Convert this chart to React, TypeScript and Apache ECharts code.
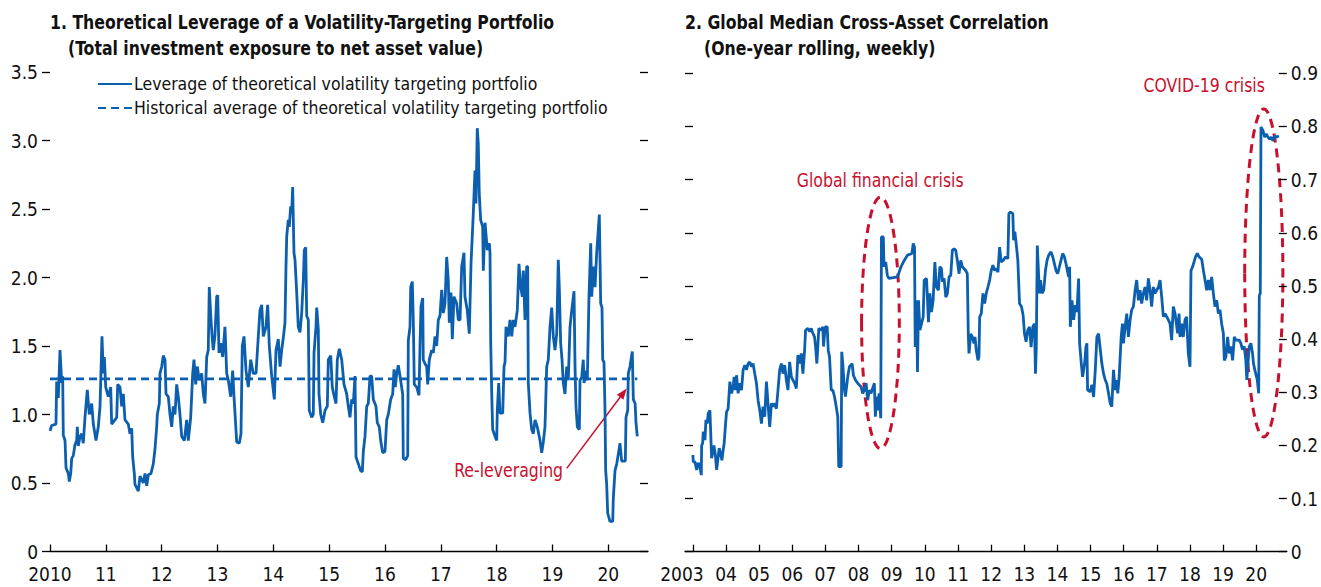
import { useEffect, useRef } from "react";
import * as echarts from "echarts";

const FONT = "'Liberation Sans Narrow','Arial Narrow','DejaVu Sans Condensed','Roboto Condensed',Roboto,sans-serif";
const BLUE = "#0b5fae";
const RED = "#c8102e";
const INK = "#111111";

// ---------- Panel 1 ----------
const leverageTitle = ["1. Theoretical Leverage of a Volatility-Targeting Portfolio", "(Total investment exposure to net asset value)"];
const leverageSeriesName = "Leverage of theoretical volatility targeting portfolio";
const averageSeriesName = "Historical average of theoretical volatility targeting portfolio";
const leverageYearTicks = [2010, 2011, 2012, 2013, 2014, 2015, 2016, 2017, 2018, 2019, 2020];
const leverageAverage = 1.26;
const leverageAverageSpan = [2010, 2020.52];
const leverage: [number, number][] = [
  [2010.0, 0.88], [2010.03, 0.92], [2010.107, 0.93], [2010.12, 1.24], [2010.149, 1.12], [2010.179, 1.47], [2010.21, 1.23], [2010.227, 1.28], [2010.238, 0.85], [2010.269, 0.81], [2010.287, 0.61], [2010.328, 0.57], [2010.346, 0.51], [2010.371, 0.57], [2010.389, 0.68], [2010.417, 0.7], [2010.448, 0.78], [2010.478, 0.81], [2010.489, 0.91], [2010.507, 0.77], [2010.537, 0.84], [2010.568, 0.86], [2010.596, 0.79], [2010.627, 0.98], [2010.668, 1.18], [2010.704, 1.0], [2010.747, 1.08], [2010.776, 0.93], [2010.824, 0.81], [2010.865, 0.91], [2010.896, 1.06], [2010.931, 1.57], [2010.955, 1.3], [2010.973, 1.42], [2010.998, 1.2],
  [2011.044, 1.13], [2011.087, 1.2], [2011.105, 0.93], [2011.164, 0.96], [2011.195, 0.98], [2011.213, 1.22], [2011.254, 1.2], [2011.284, 1.06], [2011.313, 1.15], [2011.343, 0.96], [2011.402, 0.93], [2011.433, 0.86], [2011.463, 0.9], [2011.481, 0.69], [2011.51, 0.57], [2011.522, 0.49], [2011.582, 0.44], [2011.612, 0.55], [2011.671, 0.5], [2011.702, 0.57], [2011.732, 0.48], [2011.761, 0.56], [2011.809, 0.57], [2011.85, 0.64], [2011.881, 0.75], [2011.911, 0.91], [2011.922, 1.0], [2011.958, 1.08], [2011.97, 1.3],
  [2012.001, 1.35], [2012.029, 1.43], [2012.06, 1.4], [2012.078, 1.15], [2012.119, 1.13], [2012.149, 1.0], [2012.18, 0.91], [2012.208, 1.06], [2012.239, 1.0], [2012.269, 1.22], [2012.298, 1.13], [2012.328, 1.0], [2012.359, 0.84], [2012.406, 0.81], [2012.449, 0.96], [2012.477, 0.81], [2012.52, 0.98], [2012.556, 1.3], [2012.579, 1.4], [2012.61, 1.22], [2012.638, 1.35], [2012.674, 1.25], [2012.717, 1.3], [2012.746, 1.15], [2012.776, 1.08], [2012.807, 1.42], [2012.835, 1.47], [2012.853, 1.93], [2012.884, 1.69], [2012.907, 1.55], [2012.925, 1.47], [2012.955, 1.58], [2012.986, 1.86],
  [2013.004, 1.87], [2013.027, 1.45], [2013.058, 1.52], [2013.093, 1.42], [2013.134, 1.64], [2013.165, 1.3], [2013.194, 1.25], [2013.237, 1.13], [2013.272, 1.32], [2013.296, 1.13], [2013.344, 0.8], [2013.391, 0.79], [2013.421, 0.86], [2013.444, 1.5], [2013.475, 1.57], [2013.511, 1.32], [2013.552, 1.2], [2013.595, 1.4], [2013.641, 1.3], [2013.69, 1.3], [2013.731, 1.57], [2013.761, 1.76], [2013.792, 1.8], [2013.821, 1.57], [2013.869, 1.64], [2013.899, 1.8], [2013.928, 1.5], [2013.971, 1.28],
  [2014.018, 1.11], [2014.048, 1.47], [2014.089, 1.55], [2014.12, 1.35], [2014.15, 1.47], [2014.179, 1.56], [2014.209, 1.67], [2014.227, 2.08], [2014.24, 2.3], [2014.268, 2.42], [2014.286, 2.37], [2014.311, 2.52], [2014.329, 2.47], [2014.347, 2.66], [2014.358, 2.42], [2014.37, 2.18], [2014.388, 2.13], [2014.419, 1.89], [2014.447, 1.64], [2014.478, 1.6], [2014.508, 1.74], [2014.537, 1.98], [2014.555, 2.2], [2014.58, 2.22], [2014.598, 1.72], [2014.627, 1.69], [2014.644, 1.03], [2014.687, 0.98], [2014.716, 1.0], [2014.729, 1.45], [2014.764, 1.64], [2014.777, 1.78], [2014.806, 1.62], [2014.818, 1.15], [2014.849, 1.0], [2014.885, 0.94], [2014.926, 1.03], [2014.967, 1.06], [2014.985, 1.4],
  [2015.028, 1.43], [2015.056, 1.2], [2015.092, 1.13], [2015.123, 1.08], [2015.146, 1.4], [2015.182, 1.48], [2015.225, 1.4], [2015.266, 1.22], [2015.314, 1.15], [2015.343, 1.06], [2015.373, 0.98], [2015.404, 1.11], [2015.433, 1.08], [2015.463, 1.28], [2015.481, 0.69], [2015.522, 0.64], [2015.565, 0.59], [2015.594, 0.58], [2015.612, 0.73], [2015.642, 0.84], [2015.673, 1.06], [2015.701, 1.08], [2015.732, 1.28], [2015.762, 1.28], [2015.791, 1.11], [2015.839, 1.06], [2015.862, 0.94], [2015.898, 0.91], [2015.923, 0.81], [2015.959, 0.72],
  [2016.0, 0.73], [2016.031, 0.96], [2016.059, 1.0], [2016.102, 1.11], [2016.138, 1.15], [2016.162, 1.33], [2016.185, 1.2], [2016.21, 1.3], [2016.239, 1.36], [2016.269, 1.28], [2016.317, 1.15], [2016.328, 0.68], [2016.371, 0.67], [2016.407, 0.7], [2016.418, 1.54], [2016.448, 1.64], [2016.461, 1.93], [2016.489, 1.97], [2016.507, 1.69], [2016.525, 1.22], [2016.568, 1.2], [2016.609, 1.14], [2016.627, 1.5], [2016.645, 1.79], [2016.676, 1.85], [2016.686, 1.4], [2016.717, 1.37], [2016.747, 1.35], [2016.765, 1.22], [2016.794, 1.4], [2016.837, 1.47], [2016.866, 1.45], [2016.896, 1.57], [2016.926, 1.5], [2016.955, 1.69], [2016.985, 1.72],
  [2017.016, 1.91], [2017.045, 1.74], [2017.075, 1.81], [2017.105, 2.15], [2017.134, 1.98], [2017.152, 1.67], [2017.182, 1.89], [2017.206, 1.55], [2017.236, 1.86], [2017.285, 1.81], [2017.313, 1.69], [2017.344, 1.69], [2017.374, 2.08], [2017.415, 2.18], [2017.433, 1.86], [2017.474, 1.76], [2017.51, 1.59], [2017.541, 2.1], [2017.582, 2.47], [2017.612, 2.78], [2017.63, 2.54], [2017.653, 3.09], [2017.671, 2.98], [2017.689, 2.61], [2017.714, 2.42], [2017.75, 2.37], [2017.761, 2.05], [2017.792, 2.4], [2017.833, 2.2], [2017.869, 2.25], [2017.881, 2.18], [2017.894, 1.52], [2017.912, 1.15], [2017.929, 0.89], [2017.971, 0.84],
  [2018.001, 0.81], [2018.012, 1.03], [2018.037, 1.23], [2018.06, 1.01], [2018.109, 1.01], [2018.132, 1.35], [2018.15, 1.38], [2018.168, 1.64], [2018.209, 1.57], [2018.239, 1.69], [2018.27, 1.57], [2018.298, 1.69], [2018.329, 1.64], [2018.37, 1.76], [2018.4, 2.1], [2018.431, 1.93], [2018.46, 1.86], [2018.478, 2.05], [2018.508, 1.69], [2018.538, 2.08], [2018.556, 2.08], [2018.567, 1.23], [2018.598, 1.01], [2018.628, 0.89], [2018.657, 0.86], [2018.688, 0.96], [2018.728, 0.91], [2018.777, 0.81], [2018.807, 0.72], [2018.836, 0.8], [2018.866, 0.91], [2018.897, 1.35], [2018.925, 1.4], [2018.956, 1.64], [2018.986, 1.78],
  [2019.015, 1.57], [2019.045, 1.47], [2019.076, 1.59], [2019.104, 2.13], [2019.122, 1.93], [2019.147, 1.52], [2019.171, 1.4], [2019.194, 1.23], [2019.224, 1.15], [2019.255, 1.35], [2019.283, 1.25], [2019.314, 1.64], [2019.345, 1.76], [2019.386, 1.9], [2019.404, 1.35], [2019.421, 1.06], [2019.445, 0.91], [2019.481, 0.89], [2019.493, 1.25], [2019.523, 1.27], [2019.552, 1.4], [2019.565, 1.23], [2019.601, 1.32], [2019.624, 1.25], [2019.654, 1.86], [2019.685, 2.25], [2019.703, 1.86], [2019.731, 2.08], [2019.762, 1.93], [2019.792, 2.18], [2019.821, 2.35], [2019.839, 2.46], [2019.864, 1.81], [2019.887, 1.78], [2019.9, 1.4], [2019.923, 1.38], [2019.941, 1.03], [2019.953, 0.59], [2019.971, 0.49], [2019.989, 0.28],
  [2020.03, 0.22], [2020.079, 0.22], [2020.09, 0.39], [2020.12, 0.59], [2020.151, 0.64], [2020.179, 0.71], [2020.209, 0.79], [2020.24, 0.66], [2020.269, 0.66], [2020.305, 0.66], [2020.317, 0.98], [2020.348, 1.03], [2020.358, 1.3], [2020.389, 1.35], [2020.407, 1.4], [2020.43, 1.46], [2020.448, 1.11], [2020.48, 1.08], [2020.496, 0.94], [2020.519, 0.84],
];

// ---------- Panel 2 ----------
const correlationTitle = ["2. Global Median Cross-Asset Correlation", "(One-year rolling, weekly)"];
const correlationSeriesName = "Global median cross-asset correlation";
const correlationYearTicks = [2003, 2004, 2005, 2006, 2007, 2008, 2009, 2010, 2011, 2012, 2013, 2014, 2015, 2016, 2017, 2018, 2019, 2020];
const correlation: [number, number][] = [
  [2003.0, 0.182], [2003.012, 0.169], [2003.063, 0.169], [2003.114, 0.154], [2003.162, 0.167], [2003.213, 0.16], [2003.253, 0.144], [2003.265, 0.2], [2003.295, 0.204], [2003.313, 0.226], [2003.364, 0.21], [2003.394, 0.248], [2003.433, 0.241], [2003.463, 0.26], [2003.514, 0.266], [2003.535, 0.229], [2003.565, 0.176], [2003.595, 0.185], [2003.634, 0.2], [2003.674, 0.185], [2003.716, 0.154], [2003.764, 0.179], [2003.794, 0.195], [2003.836, 0.185], [2003.875, 0.172], [2003.914, 0.191], [2003.944, 0.204], [2003.986, 0.241],
  [2004.016, 0.263], [2004.064, 0.269], [2004.116, 0.32], [2004.167, 0.298], [2004.215, 0.31], [2004.245, 0.329], [2004.287, 0.304], [2004.317, 0.332], [2004.365, 0.298], [2004.416, 0.317], [2004.467, 0.304], [2004.516, 0.342], [2004.567, 0.351], [2004.618, 0.342], [2004.666, 0.354], [2004.717, 0.357], [2004.768, 0.348], [2004.816, 0.354], [2004.867, 0.335], [2004.918, 0.317], [2004.967, 0.285],
  [2005.018, 0.266], [2005.069, 0.241], [2005.117, 0.273], [2005.168, 0.254], [2005.219, 0.32], [2005.267, 0.279], [2005.318, 0.235], [2005.37, 0.279], [2005.418, 0.273], [2005.469, 0.279], [2005.52, 0.269], [2005.568, 0.304], [2005.619, 0.342], [2005.67, 0.354], [2005.718, 0.335], [2005.769, 0.351], [2005.821, 0.323], [2005.869, 0.304], [2005.92, 0.357], [2005.971, 0.329],
  [2006.019, 0.323], [2006.07, 0.317], [2006.121, 0.307], [2006.169, 0.37], [2006.22, 0.354], [2006.272, 0.373], [2006.32, 0.335], [2006.371, 0.379], [2006.401, 0.417], [2006.47, 0.42], [2006.521, 0.414], [2006.572, 0.42], [2006.62, 0.411], [2006.671, 0.404], [2006.702, 0.386], [2006.741, 0.354], [2006.801, 0.42], [2006.873, 0.417], [2006.921, 0.423], [2006.942, 0.386], [2006.993, 0.423],
  [2007.053, 0.423], [2007.084, 0.379], [2007.123, 0.367], [2007.174, 0.304], [2007.222, 0.304], [2007.273, 0.292], [2007.324, 0.273], [2007.372, 0.254], [2007.402, 0.16], [2007.474, 0.16], [2007.492, 0.376], [2007.523, 0.354], [2007.574, 0.304], [2007.604, 0.292], [2007.673, 0.329], [2007.724, 0.348], [2007.805, 0.354], [2007.844, 0.332], [2007.904, 0.323], [2007.974, 0.317],
  [2008.076, 0.31], [2008.124, 0.298], [2008.175, 0.304], [2008.226, 0.317], [2008.274, 0.285], [2008.325, 0.304], [2008.377, 0.298], [2008.476, 0.317], [2008.506, 0.254], [2008.545, 0.292], [2008.575, 0.266], [2008.618, 0.298], [2008.669, 0.251], [2008.69, 0.592], [2008.747, 0.592], [2008.768, 0.536], [2008.819, 0.545], [2008.867, 0.52], [2008.918, 0.514],
  [2009.176, 0.517], [2009.279, 0.536], [2009.378, 0.548], [2009.477, 0.558], [2009.609, 0.561], [2009.649, 0.58], [2009.688, 0.573], [2009.709, 0.385], [2009.748, 0.473], [2009.778, 0.338], [2009.808, 0.473], [2009.851, 0.417], [2009.899, 0.429], [2009.95, 0.442], [2009.98, 0.511],
  [2010.05, 0.514], [2010.08, 0.473], [2010.109, 0.432], [2010.151, 0.486], [2010.199, 0.451], [2010.25, 0.473], [2010.302, 0.545], [2010.35, 0.498], [2010.41, 0.492], [2010.452, 0.536], [2010.5, 0.533], [2010.53, 0.508], [2010.58, 0.514], [2010.632, 0.479], [2010.68, 0.486], [2010.731, 0.517], [2010.782, 0.52], [2010.83, 0.567], [2010.881, 0.57], [2010.932, 0.567], [2010.98, 0.548],
  [2011.031, 0.523], [2011.083, 0.548], [2011.131, 0.536], [2011.233, 0.529], [2011.281, 0.523], [2011.311, 0.41], [2011.332, 0.373], [2011.383, 0.41], [2011.432, 0.404], [2011.483, 0.392], [2011.513, 0.404], [2011.552, 0.379], [2011.603, 0.36], [2011.633, 0.367], [2011.654, 0.442], [2011.702, 0.448], [2011.753, 0.486], [2011.805, 0.467], [2011.853, 0.486], [2011.904, 0.498], [2011.955, 0.511],
  [2012.003, 0.529], [2012.054, 0.539], [2012.105, 0.529], [2012.154, 0.533], [2012.205, 0.526], [2012.256, 0.573], [2012.304, 0.545], [2012.364, 0.548], [2012.436, 0.555], [2012.505, 0.551], [2012.535, 0.636], [2012.586, 0.639], [2012.655, 0.636], [2012.677, 0.586], [2012.716, 0.602], [2012.755, 0.58], [2012.806, 0.548], [2012.857, 0.467], [2012.917, 0.461], [2012.965, 0.445],
  [2013.007, 0.41], [2013.055, 0.395], [2013.106, 0.417], [2013.158, 0.423], [2013.206, 0.385], [2013.257, 0.423], [2013.308, 0.429], [2013.338, 0.335], [2013.363, 0.385], [2013.393, 0.576], [2013.458, 0.486], [2013.488, 0.511], [2013.536, 0.486], [2013.588, 0.492], [2013.639, 0.529], [2013.687, 0.548], [2013.738, 0.558], [2013.807, 0.564], [2013.858, 0.555], [2013.909, 0.542], [2013.957, 0.529],
  [2014.009, 0.523], [2014.06, 0.536], [2014.108, 0.548], [2014.159, 0.561], [2014.21, 0.555], [2014.258, 0.542], [2014.339, 0.517], [2014.369, 0.536], [2014.39, 0.423], [2014.439, 0.473], [2014.49, 0.436], [2014.541, 0.464], [2014.589, 0.451], [2014.64, 0.514], [2014.67, 0.392], [2014.721, 0.354], [2014.76, 0.329], [2014.821, 0.354], [2014.86, 0.385], [2014.89, 0.392], [2014.911, 0.304], [2014.992, 0.301],
  [2015.041, 0.314], [2015.092, 0.291], [2015.143, 0.342], [2015.191, 0.404], [2015.242, 0.41], [2015.341, 0.354], [2015.392, 0.335], [2015.443, 0.323], [2015.491, 0.316], [2015.542, 0.298], [2015.593, 0.279], [2015.641, 0.273], [2015.692, 0.342], [2015.743, 0.304], [2015.791, 0.323], [2015.821, 0.298], [2015.864, 0.329], [2015.924, 0.404], [2015.963, 0.429], [2015.993, 0.392],
  [2016.044, 0.423], [2016.092, 0.448], [2016.143, 0.404], [2016.194, 0.436], [2016.242, 0.455], [2016.293, 0.461], [2016.345, 0.492], [2016.393, 0.511], [2016.444, 0.473], [2016.495, 0.492], [2016.543, 0.467], [2016.594, 0.486], [2016.645, 0.498], [2016.694, 0.473], [2016.745, 0.514], [2016.796, 0.492], [2016.844, 0.461], [2016.895, 0.498], [2016.946, 0.486],
  [2017.047, 0.498], [2017.098, 0.511], [2017.146, 0.48], [2017.197, 0.442], [2017.248, 0.448], [2017.348, 0.436], [2017.399, 0.429], [2017.447, 0.398], [2017.498, 0.461], [2017.55, 0.448], [2017.628, 0.411], [2017.67, 0.448], [2017.7, 0.404], [2017.748, 0.429], [2017.799, 0.404], [2017.85, 0.436], [2017.898, 0.442], [2017.95, 0.373],
  [2018.001, 0.348], [2018.031, 0.529], [2018.079, 0.536], [2018.17, 0.555], [2018.22, 0.561], [2018.272, 0.555], [2018.355, 0.55], [2018.406, 0.529], [2018.454, 0.511], [2018.505, 0.492], [2018.556, 0.511], [2018.604, 0.492], [2018.655, 0.517], [2018.706, 0.486], [2018.754, 0.461], [2018.806, 0.473], [2018.857, 0.448], [2018.905, 0.455], [2018.956, 0.429],
  [2019.007, 0.411], [2019.037, 0.36], [2019.085, 0.367], [2019.136, 0.404], [2019.187, 0.373], [2019.236, 0.386], [2019.287, 0.36], [2019.338, 0.404], [2019.386, 0.398], [2019.488, 0.398], [2019.536, 0.392], [2019.587, 0.38], [2019.638, 0.386], [2019.686, 0.36], [2019.716, 0.323], [2019.758, 0.36], [2019.788, 0.386], [2019.837, 0.392], [2019.888, 0.373], [2019.918, 0.354], [2019.957, 0.342],
  [2020.032, 0.323], [2020.074, 0.298], [2020.092, 0.482], [2020.122, 0.486], [2020.143, 0.799], [2020.203, 0.792], [2020.254, 0.78], [2020.302, 0.786], [2020.354, 0.78], [2020.405, 0.776], [2020.453, 0.78], [2020.504, 0.773], [2020.555, 0.782], [2020.603, 0.78], [2020.684, 0.782],
];

// ---------- Annotations (data coordinates) ----------
const releverText = "Re-leveraging";
const releverTextAt: [number, number] = [2019.19, 0.595];
const releverArrowFrom: [number, number] = [2019.255, 0.607];
const releverArrowTo: [number, number] = [2020.33, 1.19];
const gfcText = "Global financial crisis";
const gfcTextAt: [number, number] = [2008.653, 0.699];
const gfcBox: [number, number, number, number] = [2008.09, 2009.23, 0.194, 0.667];
const covidText = "COVID-19 crisis";
const covidTextAt: [number, number] = [2018.43, 0.877];
const covidBox: [number, number, number, number] = [2019.652, 2020.804, 0.216, 0.833];

const tickStyle = { color: "#000", width: 1.3 };
const labelBase = { fontSize: 19, color: INK, fontFamily: FONT };
const LINE_W = 2.8;

function buildOption(): any {
  return {
    animation: false,
    backgroundColor: "#fff",
    textStyle: { fontFamily: FONT },
    grid: [
      { left: 50, top: 72, width: 598, height: 479.5 },
      { left: 685, top: 73.3, width: 604, height: 478.4 },
    ],
    legend: {
      data: [leverageSeriesName, averageSeriesName],
      orient: "vertical",
      left: 92,
      top: 70,
      itemWidth: 34,
      itemHeight: 18,
      itemGap: 6,
      selectedMode: false,
      itemStyle: { opacity: 0 },
      textStyle: { fontSize: 17.5, color: INK, fontFamily: FONT, padding: [0, 0, 0, -3] },
    },
    xAxis: [
      {
        type: "value", gridIndex: 0, min: 2010, max: 2020.711,
        axisLine: { show: true, lineStyle: tickStyle },
        axisTick: { show: true, inside: true, length: 7, customValues: leverageYearTicks, lineStyle: tickStyle },
        axisLabel: { ...labelBase, margin: 13, customValues: leverageYearTicks, formatter: (v: number) => (v === 2010 ? "2010" : String(v % 100).padStart(2, "0")) },
        splitLine: { show: false },
      },
      {
        type: "value", gridIndex: 1, min: 2002.762, max: 2020.923,
        axisLine: { show: true, lineStyle: tickStyle },
        axisTick: { show: true, inside: true, length: 7, customValues: correlationYearTicks, lineStyle: tickStyle },
        axisLabel: {
          ...labelBase, margin: 13, customValues: correlationYearTicks,
          formatter: (v: number) => (v === 2003 ? "{first|2003}" : String(v % 100).padStart(2, "0")),
          rich: { first: { fontSize: 19, color: INK, fontFamily: FONT, padding: [0, 22, 0, 0] } },
        },
        splitLine: { show: false },
      },
    ],
    yAxis: [
      {
        type: "value", gridIndex: 0, position: "left", min: 0, max: 3.5, interval: 0.5,
        axisLine: { show: false },
        axisTick: { show: true, inside: false, length: 8, lineStyle: tickStyle },
        axisLabel: { ...labelBase, margin: 12, formatter: (v: number) => (v === 0 ? "0" : v.toFixed(1)) },
        splitLine: { show: false },
      },
      {
        type: "value", gridIndex: 0, position: "right", min: 0, max: 3.5, interval: 0.5,
        axisLine: { show: false },
        axisTick: { show: true, inside: true, length: 8, lineStyle: tickStyle },
        axisLabel: { show: false },
        splitLine: { show: false },
      },
      {
        type: "value", gridIndex: 1, position: "left", min: 0, max: 0.9, interval: 0.1,
        axisLine: { show: false },
        axisTick: { show: true, inside: true, length: 8, lineStyle: tickStyle },
        axisLabel: { show: false },
        splitLine: { show: false },
      },
      {
        type: "value", gridIndex: 1, position: "right", min: 0, max: 0.9, interval: 0.1,
        axisLine: { show: false },
        axisTick: { show: true, inside: true, length: 8, lineStyle: tickStyle },
        axisLabel: { ...labelBase, margin: 4, formatter: (v: number) => (v === 0 ? "0" : v.toFixed(1)) },
        splitLine: { show: false },
      },
    ],
    series: [
      {
        name: averageSeriesName, type: "line", xAxisIndex: 0, yAxisIndex: 0,
        data: leverageAverageSpan.map((x) => [x, leverageAverage]),
        symbol: "none", showSymbol: false,
        lineStyle: { color: BLUE, width: LINE_W, type: [8, 5] },
        itemStyle: { color: BLUE },
      },
      {
        name: leverageSeriesName, type: "line", xAxisIndex: 0, yAxisIndex: 0,
        data: leverage, symbol: "none", showSymbol: false,
        lineStyle: { color: BLUE, width: LINE_W },
        itemStyle: { color: BLUE },
      },
      {
        name: correlationSeriesName, type: "line", xAxisIndex: 1, yAxisIndex: 3,
        data: correlation, symbol: "none", showSymbol: false,
        lineStyle: { color: BLUE, width: LINE_W },
        itemStyle: { color: BLUE },
      },
    ],
  };
}

export default function App() {
  const ref = useRef<HTMLDivElement>(null);
  useEffect(() => {
    const el = ref.current;
    if (!el) return;
    const chart = echarts.init(el, null, { renderer: "svg" });
    chart.setOption(buildOption());

    const p1 = (p: [number, number]) => chart.convertToPixel({ xAxisIndex: 0, yAxisIndex: 0 }, p) as number[];
    const p2 = (p: [number, number]) => chart.convertToPixel({ xAxisIndex: 1, yAxisIndex: 3 }, p) as number[];

    const SX = 0.92;
    const titleFont = `bold 19px ${FONT}`;
    const noteFont = `19px ${FONT}`;
    const text = (x: number, y: number, t: string, font: string, fill: string, align = "left") => ({
      type: "text", x, y, scaleX: SX, silent: true,
      style: { text: t, font, fill, align, verticalAlign: "middle" },
    });

    const ellipse = (b: [number, number, number, number]) => {
      const a = p2([b[0], b[3]]);
      const c = p2([b[1], b[2]]);
      return {
        type: "ellipse", silent: true,
        shape: { cx: (a[0] + c[0]) / 2, cy: (a[1] + c[1]) / 2, rx: Math.abs(c[0] - a[0]) / 2, ry: Math.abs(c[1] - a[1]) / 2 },
        style: { fill: "none", stroke: RED, lineWidth: 3, lineDash: [9, 6] },
      };
    };

    const from = p1(releverArrowFrom);
    const to = p1(releverArrowTo);
    const ang = Math.atan2(to[1] - from[1], to[0] - from[0]);
    const headLen = 11, headHalf = 4;
    const base = [to[0] - headLen * Math.cos(ang), to[1] - headLen * Math.sin(ang)];
    const nx = -Math.sin(ang), ny = Math.cos(ang);
    const rt = p1(releverTextAt);
    const gt = p2(gfcTextAt);
    const ct = p2(covidTextAt);

    chart.setOption({
      graphic: [
        text(50, 22, leverageTitle[0], titleFont, INK),
        text(68, 48, leverageTitle[1], titleFont, INK),
        text(685, 22, correlationTitle[0], titleFont, INK),
        text(704, 48, correlationTitle[1], titleFont, INK),
        text(rt[0], rt[1], releverText, noteFont, RED, "right"),
        {
          type: "line", silent: true,
          shape: { x1: from[0], y1: from[1], x2: base[0], y2: base[1] },
          style: { stroke: RED, lineWidth: 1.5 },
        },
        {
          type: "polygon", silent: true,
          shape: { points: [[to[0], to[1]], [base[0] + nx * headHalf, base[1] + ny * headHalf], [base[0] - nx * headHalf, base[1] - ny * headHalf]] },
          style: { fill: RED },
        },
        text(gt[0], gt[1], gfcText, noteFont, RED, "center"),
        text(ct[0], ct[1], covidText, noteFont, RED, "center"),
        ellipse(gfcBox),
        ellipse(covidBox),
      ],
    });

    return () => chart.dispose();
  }, []);

  return (
    <div
      ref={ref}
      style={{ position: "fixed", left: 0, top: 0, width: 1321, height: 587, background: "#fff" }}
    />
  );
}
